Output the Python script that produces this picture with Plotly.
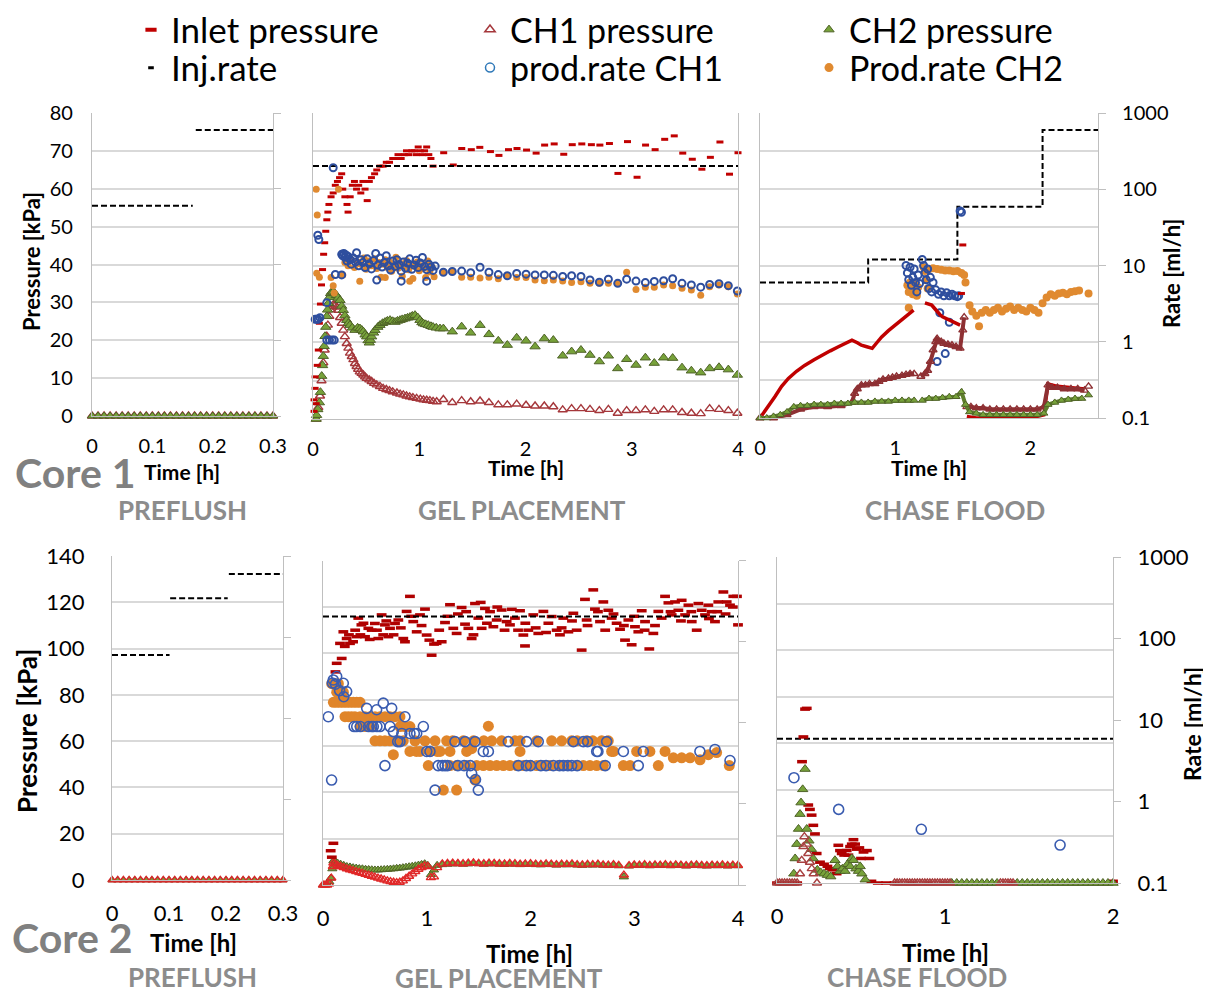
import plotly.graph_objects as go

# ---------------- DATA (time [h], value) ----------------
# Core 1 - preflush
c1_pre_t = [0, 0.01, 0.02, 0.03, 0.04, 0.05, 0.06, 0.07, 0.08, 0.09, 0.10, 0.11, 0.12, 0.13, 0.14, 0.15,
            0.16, 0.17, 0.18, 0.19, 0.20, 0.21, 0.22, 0.23, 0.24, 0.25, 0.26, 0.27, 0.28, 0.29, 0.30]
c1_pre_ch = [0, 0, 0, 0, 0, 0, 0, 0, 0, 0, 0, 0, 0, 0, 0, 0, 0, 0, 0, 0, 0, 0, 0, 0, 0, 0, 0, 0, 0, 0, 0]
c1_pre_inj_t = [0, 0.167, None, 0.172, 0.3]
c1_pre_inj = [60, 60, None, 600, 600]

# Core 1 - gel placement
c1_gel_inj_t = [0, 4]
c1_gel_inj = [200, 200]
c1_gel_inlet = [(0.01, 2), (0.01, 5), (0.02, 8), (0.02, 11), (0.03, 4), (0.04, 14), (0.05, 18), (0.06, 25), (0.07, 30),
                (0.08, 35), (0.09, 39), (0.10, 43), (0.11, 46), (0.12, 49), (0.13, 52), (0.14, 54), (0.15, 56), (0.17, 58),
                (0.19, 59), (0.21, 61), (0.23, 62), (0.25, 63), (0.27, 64), (0.28, 60), (0.30, 58), (0.32, 56), (0.33, 54),
                (0.35, 58), (0.37, 61), (0.39, 62), (0.41, 60), (0.43, 61), (0.45, 59), (0.47, 62), (0.49, 60), (0.51, 57),
                (0.53, 62), (0.55, 63), (0.58, 64), (0.60, 65), (0.63, 66), (0.66, 66), (0.69, 67), (0.72, 67), (0.75, 68),
                (0.78, 68), (0.80, 69), (0.83, 68), (0.86, 69), (0.88, 70), (0.90, 69), (0.93, 70), (0.95, 70), (0.97, 69),
                (0.99, 71), (1.01, 70), (1.03, 69), (1.05, 70), (1.07, 71), (1.09, 69), (1.11, 68), (1.13, 66),
                (1.23, 69.5), (1.32, 66.3), (1.40, 70.6), (1.49, 70.3), (1.57, 70.9), (1.67, 69.8), (1.75, 68.8), (1.84, 70.3),
                (1.92, 70.6), (2.01, 70.2), (2.10, 69.4), (2.18, 71.5), (2.27, 71.8), (2.36, 69.1), (2.44, 71.6), (2.53, 71.8),
                (2.62, 71.6), (2.70, 71.5), (2.79, 71.9), (2.87, 64.1), (2.96, 72.4), (3.05, 63.1), (3.13, 71.5), (3.22, 70.3),
                (3.31, 73.0), (3.40, 73.9), (3.48, 69.4), (3.57, 67.8), (3.66, 65.2), (3.74, 68.3), (3.83, 72.3), (3.92, 63.9),
                (4.00, 69.5)]
c1_gel_ch1 = [(0.03, 0), (0.05, 3), (0.066, 6), (0.08, 10), (0.097, 14.7), (0.11, 18), (0.13, 21.6), (0.14, 24.5),
              (0.154, 26.8), (0.165, 28.5), (0.176, 29.3), (0.19, 29.8), (0.207, 29.8), (0.225, 29.2), (0.24, 28.4),
              (0.255, 26.5), (0.27, 25), (0.285, 23.2), (0.30, 21.5), (0.317, 19.7), (0.333, 18.5), (0.348, 17.2),
              (0.365, 16.3), (0.38, 15.5), (0.395, 14.5), (0.41, 13.7), (0.425, 13), (0.44, 12.3), (0.457, 11.9),
              (0.474, 11.5), (0.49, 11), (0.505, 10.6), (0.53, 10.2), (0.552, 9.8), (0.575, 9.3), (0.60, 8.9),
              (0.63, 8.5), (0.66, 8.0), (0.69, 7.7), (0.72, 7.4), (0.75, 7.1), (0.79, 6.8), (0.82, 6.5), (0.85, 6.3),
              (0.88, 6.0), (0.91, 5.8), (0.94, 5.6), (0.975, 5.4), (1.01, 5.2), (1.04, 5.0), (1.07, 4.9), (1.10, 4.8),
              (1.13, 4.6), (1.164, 4.5),
              (1.227, 5.1), (1.311, 4.3), (1.399, 4.8), (1.484, 4.5), (1.572, 4.7), (1.656, 4.3), (1.744, 3.7),
              (1.829, 3.7), (1.917, 3.9), (2.005, 3.6), (2.09, 3.4), (2.177, 3.4), (2.262, 3.2), (2.35, 2.4),
              (2.434, 2.7), (2.522, 2.7), (2.607, 2.5), (2.695, 2.2), (2.78, 2.5), (2.868, 1.5), (2.952, 2.2),
              (3.04, 2.2), (3.128, 2.4), (3.212, 2.0), (3.30, 2.4), (3.385, 2.4), (3.473, 1.7), (3.561, 1.5),
              (3.649, 1.4), (3.733, 2.7), (3.821, 2.5), (3.909, 2.2), (3.994, 1.5)]
c1_gel_ch2 = [(0.03, 0), (0.034, 1), (0.045, 2.5), (0.06, 4.3), (0.07, 7), (0.082, 11.2), (0.09, 14), (0.097, 16.4),
              (0.105, 19), (0.113, 21.6), (0.12, 24), (0.13, 26.8), (0.137, 28.5), (0.144, 30.2), (0.155, 31.8),
              (0.166, 32.8), (0.178, 33.2), (0.19, 33.2), (0.205, 32.8), (0.22, 32.3), (0.237, 31.6), (0.254, 31.0),
              (0.27, 29.5), (0.285, 28.4), (0.30, 27), (0.317, 25.8), (0.333, 25), (0.348, 24.5), (0.37, 23.8),
              (0.395, 23.2), (0.42, 23.8), (0.442, 23.6), (0.46, 23.2), (0.474, 22.8), (0.49, 22), (0.505, 21.5),
              (0.518, 20.5), (0.53, 19.9), (0.54, 20.6), (0.552, 21.5), (0.57, 22.5), (0.584, 23.2), (0.61, 24),
              (0.63, 24.5), (0.655, 25), (0.678, 25.3), (0.70, 25.6), (0.725, 25.8), (0.75, 25.5), (0.772, 25.3),
              (0.795, 25.6), (0.819, 25.8), (0.84, 26), (0.866, 26.2), (0.89, 26.4), (0.913, 26.6), (0.935, 26.9),
              (0.96, 27.1), (0.985, 26.5), (1.007, 25.8), (1.025, 25.2), (1.04, 24.9), (1.06, 24.7), (1.085, 24.5),
              (1.11, 24.2), (1.13, 24.0), (1.16, 23.8), (1.195, 23.6),
              (1.227, 23.6), (1.311, 22.8), (1.399, 24.1), (1.484, 22.5), (1.572, 24.5), (1.656, 22.1), (1.744, 20.4),
              (1.829, 19.3), (1.917, 21.2), (2.005, 20.4), (2.09, 18.9), (2.177, 21.0), (2.262, 20.6), (2.35, 16.5),
              (2.434, 17.6), (2.522, 18.0), (2.607, 16.7), (2.695, 15.0), (2.78, 16.5), (2.868, 13.2), (2.952, 15.6),
              (3.04, 14.1), (3.128, 16.0), (3.212, 14.6), (3.30, 16.0), (3.385, 15.9), (3.473, 13.4), (3.561, 12.6),
              (3.649, 12.1), (3.733, 13.2), (3.821, 13.5), (3.909, 12.9), (3.994, 11.5)]
c1_gel_q1 = [(0.02, 2.0), (0.035, 2.0), (0.05, 2.0), (0.065, 2.1), (0.045, 25), (0.055, 22), (0.13, 3.3), (0.13, 1.07),
             (0.155, 1.07), (0.18, 1.07), (0.20, 1.07), (0.19, 190), (0.21, 7.7), (0.27, 7.6), (0.60, 6.5), (0.83, 6.3),
             (1.07, 6.3),
             (0.27, 14.1), (0.28, 13.5), (0.29, 14.5), (0.30, 12.9), (0.31, 13.8), (0.32, 11.5), (0.33, 13.2), (0.35, 12.0),
             (0.36, 10.5), (0.38, 12.6), (0.40, 11.2), (0.41, 14.8), (0.43, 10.0), (0.45, 12.0), (0.47, 11.0), (0.49, 9.5),
             (0.51, 12.3), (0.53, 10.6), (0.55, 9.1), (0.57, 11.7), (0.59, 14.5), (0.61, 10.2), (0.63, 12.6), (0.65, 9.6),
             (0.67, 11.0), (0.69, 13.5), (0.71, 10.0), (0.73, 8.8), (0.75, 11.5), (0.77, 9.8), (0.79, 12.0), (0.81, 10.4),
             (0.83, 8.5), (0.85, 11.2), (0.87, 9.3), (0.89, 10.8), (0.91, 12.3), (0.93, 9.0), (0.95, 10.2), (0.97, 11.8),
             (0.99, 9.5), (1.01, 10.9), (1.03, 12.8), (1.05, 9.8), (1.07, 8.9), (1.09, 10.5), (1.11, 9.6), (1.13, 8.7),
             (1.15, 9.9),
             (1.227, 8.22), (1.311, 8.41), (1.399, 8.51), (1.484, 8.13), (1.572, 9.55), (1.656, 8.22), (1.744, 7.67),
             (1.829, 7.41), (1.917, 7.94), (2.005, 7.76), (2.09, 7.59), (2.177, 7.59), (2.262, 7.50), (2.35, 7.24),
             (2.434, 7.41), (2.522, 7.24), (2.607, 6.53), (2.695, 6.10), (2.78, 6.68), (2.868, 5.89), (2.952, 6.68),
             (3.04, 6.31), (3.128, 6.03), (3.212, 6.24), (3.30, 6.38), (3.385, 6.76), (3.473, 5.89), (3.561, 5.62),
             (3.649, 5.25), (3.733, 5.69), (3.821, 5.82), (3.909, 5.50), (3.994, 4.68)]
c1_gel_q2 = [(0.03, 100), (0.04, 46), (0.035, 8.0), (0.06, 7.1), (0.17, 7.0), (0.19, 5.5), (0.20, 4.4), (0.24, 100),
             (0.28, 7.6), (0.44, 6.3), (0.68, 7.0), (0.91, 6.3),
             (0.30, 11.0), (0.33, 10.0), (0.36, 12.0), (0.39, 9.5), (0.42, 11.2), (0.45, 10.5), (0.48, 12.6), (0.50, 9.0),
             (0.52, 11.5), (0.55, 10.0), (0.58, 12.3), (0.60, 9.2), (0.62, 11.0), (0.64, 7.1), (0.66, 10.5), (0.68, 12.0),
             (0.70, 9.5), (0.72, 11.3), (0.74, 8.5), (0.76, 10.2), (0.78, 12.9), (0.80, 9.3), (0.82, 10.9), (0.84, 7.3),
             (0.86, 10.0), (0.88, 11.7), (0.90, 8.9), (0.92, 10.4), (0.94, 6.8), (0.96, 9.8), (0.98, 11.2), (1.00, 8.6),
             (1.02, 10.0), (1.04, 9.2), (1.06, 7.0), (1.08, 11.5), (1.10, 8.3), (1.12, 9.6), (1.14, 7.2),
             (1.227, 8.22), (1.311, 8.41), (1.399, 7.08), (1.484, 7.08), (1.572, 6.92), (1.656, 7.08), (1.744, 6.76),
             (1.829, 7.41), (1.917, 7.0), (2.005, 7.0), (2.09, 6.53), (2.177, 6.38), (2.262, 6.53), (2.35, 6.31),
             (2.434, 6.03), (2.522, 6.17), (2.607, 5.89), (2.695, 5.89), (2.78, 5.89), (2.868, 5.89), (2.952, 8.22),
             (3.04, 4.90), (3.128, 5.25), (3.212, 5.25), (3.30, 5.62), (3.385, 5.50), (3.473, 5.07), (3.561, 4.84),
             (3.649, 4.12), (3.733, 5.31), (3.821, 5.62), (3.909, 5.31), (3.994, 4.27)]

# Core 1 - chase flood (log scale)
c1_cf_inj_t = [0, 0.80, 1.46, 2.09, 2.5]
c1_cf_inj = [6, 12, 59, 600, 600]
c1_cf_inlet_line = [(0.013, 0.108), (0.06, 0.14), (0.11, 0.19), (0.16, 0.26), (0.21, 0.33), (0.27, 0.41), (0.33, 0.49),
                    (0.40, 0.58), (0.46, 0.67), (0.52, 0.76), (0.58, 0.86), (0.63, 0.95), (0.68, 1.05), (0.72, 0.97),
                    (0.75, 0.90), (0.79, 0.86), (0.83, 0.82), (0.87, 1.0), (0.90, 1.16), (0.95, 1.4), (1.0, 1.65),
                    (1.05, 1.95), (1.10, 2.3), (1.136, 2.6), (None, None),
                    (1.22, 3.24), (1.25, 3.15), (1.27, 3.03), (1.29, 2.75), (1.31, 2.47), (1.33, 2.28), (1.35, 2.12),
                    (1.385, 1.97), (1.42, 1.83), (1.45, 1.74), (1.48, 1.65), (None, None),
                    (1.53, 0.105), (1.60, 0.10), (1.70, 0.10), (1.80, 0.10), (1.90, 0.10), (2.0, 0.10), (2.10, 0.11),
                    (2.13, 0.28), (2.20, 0.26), (2.30, 0.25), (2.40, 0.24)]
c1_cf_inlet_dots = [(1.49, 4.3), (1.50, 18.6)]
c1_cf_ch1 = [(0.0, 0.1), (0.1, 0.1), (0.2, 0.11), (0.3, 0.13), (0.4, 0.14), (0.5, 0.14), (0.6, 0.145),
             (0.68, 0.16), (0.70, 0.21), (0.72, 0.24), (0.75, 0.27), (0.78, 0.27), (0.81, 0.28), (0.85, 0.28),
             (0.88, 0.30), (0.91, 0.32), (0.95, 0.33), (0.98, 0.34), (1.01, 0.35), (1.05, 0.36), (1.08, 0.37),
             (1.11, 0.38), (1.14, 0.38), (None, None), (1.19, 0.35), (1.22, 0.38), (1.24, 0.42), (1.26, 0.55),
             (1.28, 0.78), (1.30, 1.0), (1.31, 1.1), (1.34, 1.0), (1.36, 0.95), (1.39, 0.92), (1.42, 0.90),
             (1.45, 0.86), (1.48, 0.82), (1.50, 1.42), (1.51, 2.1), (None, None),
             (1.53, 0.14), (1.56, 0.14), (1.60, 0.135), (1.65, 0.135), (1.70, 0.13), (1.75, 0.13), (1.80, 0.13),
             (1.85, 0.13), (1.90, 0.13), (1.95, 0.13), (2.0, 0.13), (2.05, 0.13), (2.10, 0.14), (2.13, 0.27),
             (2.16, 0.25), (2.20, 0.25), (2.25, 0.24), (2.30, 0.24), (2.35, 0.24), (2.40, 0.23), (None, None),
             (2.43, 0.26)]
c1_cf_ch2 = [(0.0, 0.1), (0.05, 0.1), (0.10, 0.105), (0.15, 0.11), (0.20, 0.12), (0.25, 0.14), (0.30, 0.145),
             (0.35, 0.145), (0.40, 0.15), (0.45, 0.15), (0.50, 0.15), (0.55, 0.155), (0.60, 0.155), (0.65, 0.155),
             (0.70, 0.16), (0.75, 0.16), (0.80, 0.16), (0.85, 0.165), (0.90, 0.165), (0.95, 0.165), (1.0, 0.17),
             (1.05, 0.17), (1.10, 0.17), (1.14, 0.17), (None, None), (1.20, 0.17), (1.25, 0.18), (1.30, 0.18),
             (1.35, 0.185), (1.40, 0.19), (1.45, 0.19), (1.49, 0.22), (1.52, 0.15), (1.55, 0.12), (1.60, 0.115),
             (1.65, 0.11), (1.70, 0.11), (1.75, 0.11), (1.80, 0.11), (1.85, 0.11), (1.90, 0.11), (1.95, 0.11),
             (2.0, 0.11), (2.05, 0.11), (2.10, 0.115), (2.13, 0.15), (2.18, 0.16), (2.23, 0.17), (2.28, 0.175),
             (2.33, 0.18), (2.38, 0.18), (None, None), (2.43, 0.20)]
c1_cf_q1 = [(1.08, 10), (1.09, 8.0), (1.10, 6.5), (1.11, 9.5), (1.12, 5.5), (1.13, 7.0), (1.14, 9.0), (1.15, 6.0),
            (1.16, 4.5), (1.17, 7.5), (1.18, 5.8), (1.20, 12), (1.21, 10), (1.22, 8), (1.23, 6.5), (1.24, 9),
            (1.25, 5), (1.26, 7), (1.27, 4.5), (1.28, 6), (1.30, 4.8), (1.32, 4.2), (1.34, 4.5), (1.36, 4.0),
            (1.38, 4.4), (1.40, 4.0), (1.42, 4.2), (1.44, 4.0), (1.46, 3.9), (1.47, 4.0), (1.33, 2.4), (1.40, 1.8),
            (1.37, 0.7), (1.31, 0.55), (1.48, 52), (1.49, 50)]
c1_cf_q2 = [(1.09, 5.5), (1.10, 4.5), (1.11, 6.0), (1.12, 5.0), (1.13, 4.2), (1.14, 5.8), (1.15, 4.8), (1.16, 4.0),
            (1.17, 5.2), (1.10, 2.8), (1.21, 9.5), (1.22, 8.5), (1.23, 6.5), (1.24, 5.0), (1.25, 9.0), (1.28, 9.2),
            (1.31, 9.0), (1.34, 8.8), (1.37, 8.6), (1.40, 8.6), (1.43, 8.4), (1.46, 8.5), (1.49, 8.0), (1.51, 7.5),
            (1.52, 6.0), (1.55, 3.0), (1.57, 2.5), (1.60, 2.2), (1.62, 1.6), (1.64, 2.4), (1.67, 2.6), (1.70, 2.4),
            (1.73, 2.6), (1.76, 2.8), (1.79, 2.5), (1.82, 2.7), (1.85, 2.9), (1.88, 2.6), (1.91, 2.8), (1.94, 2.6),
            (1.97, 2.5), (2.0, 2.8), (2.03, 2.6), (2.06, 2.4), (2.09, 3.2), (2.12, 3.8), (2.15, 4.2), (2.18, 4.0),
            (2.21, 4.3), (2.24, 4.4), (2.27, 4.2), (2.30, 4.5), (2.33, 4.6), (2.36, 4.7), (2.43, 4.3)]

# Core 2 - preflush
c2_pre_t = [0, 0.01, 0.02, 0.03, 0.04, 0.05, 0.06, 0.07, 0.08, 0.09, 0.10, 0.11, 0.12, 0.13, 0.14, 0.15,
            0.16, 0.17, 0.18, 0.19, 0.20, 0.21, 0.22, 0.23, 0.24, 0.25, 0.26, 0.27, 0.28, 0.29, 0.30]
c2_pre_ch = [0, 0, 0, 0, 0, 0, 0, 0, 0, 0, 0, 0, 0, 0, 0, 0, 0, 0, 0, 0, 0, 0, 0, 0, 0, 0, 0, 0, 0, 0, 0]
c2_pre_inj_t = [0, 0.101, None, 0.102, 0.203, None, 0.205, 0.3]
c2_pre_inj = [60, 60, None, 300, 300, None, 600, 600]

# Core 2 - gel placement
c2_gel_inj_t = [0, 4]
c2_gel_inj = [205, 205]
c2_gel_inlet = [(0.074, 14.8), (0.085, 12), (0.10, 18), (0.11, 88), (0.12, 92), (0.132, 95.7), (0.18, 97.8), (0.164, 104.3),
                (0.196, 109.3), (0.21, 103), (0.228, 106.4), (0.25, 108), (0.26, 104.3), (0.29, 105), (0.31, 110),
                (0.325, 107.2), (0.34, 115.2), (0.36, 108), (0.37, 112.3), (0.39, 113), (0.405, 107.2), (0.437, 110.8),
                (0.45, 106), (0.469, 110), (0.5, 112.9), (0.52, 110), (0.533, 106.4), (0.565, 116.6), (0.58, 108),
                (0.597, 112.3), (0.61, 114), (0.63, 107.2), (0.646, 110.8), (0.68, 108), (0.694, 112.9), (0.726, 114.4),
                (0.75, 111), (0.774, 106.4), (0.79, 105), (0.806, 118.1), (0.838, 124.6), (0.85, 116), (0.87, 113.7),
                (0.903, 109.3), (0.935, 116.6), (0.95, 112), (0.983, 119.1), (0.999, 107.9), (1.025, 105.7),
                (1.047, 99.2), (1.07, 104), (1.095, 104.3), (1.12, 110), (1.144, 105), (1.176, 113.3), (1.20, 116),
                (1.224, 121), (1.256, 110.8), (1.288, 108.6), (1.30, 117), (1.336, 119.8), (1.369, 112.6), (1.38, 118),
                (1.401, 110.8), (1.433, 106.4), (1.45, 108), (1.465, 121.5), (1.497, 115.2), (1.52, 122), (1.529, 110.8),
                (1.561, 119.4), (1.58, 113), (1.61, 118), (1.642, 111.5), (1.674, 114.4), (1.68, 120), (1.722, 118.7),
                (1.75, 110), (1.77, 113.7), (1.802, 112.3), (1.82, 119), (1.85, 115.2), (1.88, 110), (1.899, 118.4),
                (1.931, 107.9), (1.947, 103.2), (1.95, 113), (1.979, 110), (2.027, 116.6), (2.05, 111), (2.075, 108.6),
                (2.124, 118.1), (2.15, 109), (2.172, 113), (2.204, 115.9), (2.252, 110), (2.284, 108), (2.30, 111),
                (2.316, 115.2), (2.365, 109.3), (2.40, 114), (2.413, 117.3), (2.445, 110), (2.493, 101.4), (2.525, 123.3),
                (2.541, 114.4), (2.55, 112), (2.605, 127.4), (2.621, 119.1), (2.65, 118), (2.67, 113.7), (2.702, 122.2),
                (2.72, 110), (2.75, 118.6), (2.782, 115.2), (2.80, 117), (2.83, 113), (2.863, 110.4), (2.90, 112),
                (2.911, 105.7), (2.943, 114.4), (2.975, 103.7), (3.0, 116), (3.007, 111.5), (3.039, 109.3), (3.072, 118.4),
                (3.10, 110), (3.104, 113.7), (3.145, 101.9), (3.184, 108.6), (3.20, 112), (3.232, 118.1), (3.264, 115.2),
                (3.297, 124.6), (3.329, 121.8), (3.35, 118), (3.361, 116.6), (3.393, 122.2), (3.425, 118.6), (3.45, 114),
                (3.457, 122.9), (3.49, 116.6), (3.522, 120.8), (3.55, 118), (3.554, 113.7), (3.602, 110), (3.618, 121.5),
                (3.65, 118.6), (3.682, 116.6), (3.714, 120.8), (3.72, 115), (3.746, 118), (3.778, 113.7), (3.80, 118),
                (3.81, 122.2), (3.859, 126.5), (3.88, 117), (3.891, 122.2), (3.923, 120.8), (3.95, 120), (3.955, 124.6),
                (3.99, 124.6), (4.0, 112.3)]
c2_band_t = [1.15, 1.20, 1.25, 1.30, 1.35, 1.40, 1.45, 1.50, 1.55, 1.60, 1.65, 1.70, 1.75, 1.80, 1.85, 1.90, 1.95, 2.00,
             2.05, 2.10, 2.15, 2.20, 2.25, 2.30, 2.35, 2.40, 2.45, 2.50, 2.55, 2.60, 2.65, 2.70, 2.75, 2.80, 2.85, 2.90,
             2.95, 3.00, 3.05, 3.10, 3.15, 3.20, 3.25, 3.30, 3.35, 3.40, 3.45, 3.50, 3.55, 3.60, 3.65, 3.70, 3.75, 3.80,
             3.85, 3.90, 3.95, 4.00]
c2_gel_ch2_early = [(0.0, 0), (0.02, 0), (0.04, 0.5), (0.06, 1.5), (0.075, 3), (0.09, 7), (0.10, 10.5), (0.12, 10),
                    (0.14, 9.5), (0.17, 9), (0.20, 8.5), (0.23, 8), (0.26, 7.8), (0.29, 7.5), (0.32, 7.3), (0.35, 7.1),
                    (0.38, 7), (0.41, 6.8), (0.44, 6.7), (0.47, 6.6), (0.50, 6.5), (0.53, 6.5), (0.56, 6.6), (0.59, 6.7),
                    (0.62, 6.8), (0.65, 6.9), (0.68, 7), (0.71, 7.2), (0.74, 7.3), (0.77, 7.5), (0.80, 7.7), (0.83, 7.9),
                    (0.86, 8.1), (0.89, 8.3), (0.92, 8.6), (0.95, 8.9), (0.98, 9.2), (1.01, 8.5), (1.04, 4.5), (1.07, 6.5),
                    (1.10, 8.5)]
c2_gel_ch2_band = [8.8, 9.0, 9.1, 9.2, 9.0, 9.1, 9.3, 9.2, 9.0, 9.1, 9.2, 9.0, 8.9, 9.1, 9.0, 8.8, 8.9, 9.0, 8.8, 8.7,
                   8.9, 8.8, 8.6, 8.8, 8.7, 8.9, 8.6, 8.5, 8.7, 8.6, 8.8, 8.5, 8.4, 8.6, 8.3, 3.5, 8.2, 8.5, 8.4, 8.6,
                   8.3, 8.5, 8.4, 8.6, 8.3, 8.5, 8.4, 8.2, 8.4, 8.5, 8.3, 8.2, 8.4, 8.3, 8.5, 8.2, 8.4, 8.3]
c2_gel_ch1_early = [(0.0, 0), (0.02, 0), (0.04, 0), (0.06, 0.5), (0.08, 3), (0.095, 8), (0.10, 9.5), (0.12, 9),
                    (0.14, 8.5), (0.17, 8), (0.20, 7.5), (0.23, 7), (0.26, 6.6), (0.29, 6.2), (0.32, 5.8), (0.35, 5.4),
                    (0.38, 5), (0.41, 4.6), (0.44, 4.2), (0.47, 3.8), (0.50, 3.4), (0.53, 3), (0.56, 2.6), (0.59, 2.2),
                    (0.62, 1.8), (0.65, 1.5), (0.68, 1.2), (0.71, 1.0), (0.74, 1.2), (0.77, 1.8), (0.80, 2.8), (0.83, 3.8),
                    (0.86, 4.8), (0.89, 5.8), (0.92, 6.8), (0.95, 7.5), (0.98, 8.2), (1.01, 8.0), (1.04, 3.2), (1.07, 3.5),
                    (1.10, 7.5)]
c2_gel_ch1_band = [9.1, 9.3, 9.4, 9.3, 9.2, 9.4, 9.5, 9.3, 9.2, 9.4, 9.3, 9.2, 9.1, 9.3, 9.2, 9.0, 9.1, 9.2, 9.0, 8.9,
                   9.1, 9.0, 8.8, 9.0, 8.9, 9.1, 8.8, 8.7, 8.9, 8.8, 9.0, 8.7, 8.6, 8.8, 8.5, 4.3, 8.4, 8.7, 8.6, 8.8,
                   8.5, 8.7, 8.6, 8.8, 8.5, 8.7, 8.6, 8.4, 8.6, 8.7, 8.5, 8.4, 8.6, 8.5, 8.7, 8.4, 8.6, 8.5]
c2_gel_q1 = [(0.051, 11.9), (0.083, 1.97), (0.09, 31), (0.099, 33.8), (0.12, 30), (0.132, 37.3), (0.16, 25), (0.196, 30.8),
             (0.20, 21), (0.228, 24.3), (0.30, 9.0), (0.325, 9.0), (0.36, 9.0), (0.421, 15.1), (0.44, 9.0), (0.47, 9.0),
             (0.485, 9.0), (0.517, 14.5), (0.52, 9.0), (0.549, 9.0), (0.581, 17.5), (0.597, 2.97), (0.646, 9.0),
             (0.662, 15.1), (0.678, 7.8), (0.72, 5.87), (0.742, 5.87), (0.76, 7.4), (0.79, 11.9), (0.838, 7.4),
             (0.88, 7.4), (0.903, 7.4), (0.967, 9.0), (1.0, 4.44), (1.031, 4.44), (1.08, 1.48), (1.11, 2.97), (1.15, 2.97),
             (1.176, 2.97), (1.20, 2.97), (1.272, 5.87), (1.30, 2.97), (1.36, 2.97), (1.369, 5.87), (1.42, 2.97),
             (1.433, 2.37), (1.465, 5.87), (1.47, 2.0), (1.497, 1.48), (1.545, 4.44), (1.594, 4.44), (1.786, 5.87),
             (1.883, 2.97), (1.96, 2.97), (1.963, 5.87), (2.0, 2.97), (2.075, 5.87), (2.10, 2.97), (2.15, 2.97),
             (2.22, 2.97), (2.28, 2.97), (2.316, 2.97), (2.36, 2.97), (2.397, 2.97), (2.413, 5.87), (2.45, 2.97),
             (2.509, 5.87), (2.55, 5.87), (2.638, 4.44), (2.65, 4.44), (2.72, 2.97), (2.734, 5.87), (2.895, 4.44),
             (3.039, 2.97), (3.087, 4.44), (3.633, 4.44), (3.778, 4.7), (3.923, 3.43)]
c2_gel_q2 = [(0.084, 30.4), (0.116, 30.4), (0.148, 30.4), (0.132, 23.9), (0.164, 23.9), (0.196, 23.9), (0.10, 17.9),
             (0.132, 17.9), (0.164, 17.9), (0.196, 17.9), (0.228, 17.9), (0.26, 17.9), (0.292, 17.9), (0.325, 17.9),
             (0.357, 17.9), (0.212, 11.9), (0.244, 11.9), (0.276, 11.9), (0.308, 11.9), (0.357, 11.9), (0.405, 11.9),
             (0.453, 11.9), (0.501, 11.9), (0.549, 11.9), (0.597, 11.9), (0.646, 11.9), (0.694, 11.9), (0.742, 11.9),
             (0.357, 9.0), (0.405, 9.0), (0.453, 9.0), (0.742, 9.0), (0.79, 9.0), (0.838, 9.0), (0.501, 6.0),
             (0.549, 6.0), (0.597, 6.0), (0.646, 6.0), (0.726, 6.0), (0.774, 6.0), (0.887, 6.0), (0.983, 6.0),
             (1.08, 6.0), (1.192, 6.0), (1.25, 6.0), (1.352, 6.0), (1.45, 6.0), (1.55, 6.0), (1.626, 6.0), (1.722, 6.0),
             (1.85, 6.0), (1.90, 6.0), (2.059, 6.0), (2.204, 6.0), (2.30, 6.0), (2.397, 6.0), (2.45, 6.0), (2.541, 6.0),
             (2.60, 6.0), (2.686, 6.0), (2.75, 6.0), (0.678, 4.05), (0.838, 4.44), (0.90, 4.44), (0.935, 4.44),
             (1.031, 4.44), (1.10, 4.44), (1.128, 4.44), (1.224, 4.44), (1.385, 4.44), (1.433, 4.8), (1.899, 4.44),
             (2.782, 4.44), (2.80, 4.44), (3.023, 4.44), (3.151, 4.44), (3.297, 4.44), (3.377, 3.7), (3.457, 3.7),
             (3.538, 3.7), (3.634, 3.5), (3.714, 4.05), (3.794, 4.3), (1.015, 2.97), (1.224, 2.97), (1.288, 2.97),
             (1.385, 2.97), (1.481, 2.97), (1.545, 2.97), (1.61, 2.97), (1.674, 2.97), (1.738, 2.97), (1.802, 2.97),
             (1.866, 2.97), (1.931, 2.97), (1.995, 2.97), (2.059, 2.97), (2.124, 2.97), (2.188, 2.97), (2.268, 2.97),
             (2.348, 2.97), (2.445, 2.97), (2.509, 2.97), (2.573, 2.97), (2.638, 2.97), (2.702, 2.97), (2.895, 2.97),
             (2.959, 2.97), (3.232, 2.97), (3.916, 2.97), (1.16, 1.48), (1.288, 1.48), (1.465, 1.97), (1.594, 9.1)]

# Core 2 - chase flood (log scale)
c2_cf_inj_t = [0, 2]
c2_cf_inj = [5.9, 5.9]
c2_cf_inlet = [(0.0, 0.1), (0.03, 0.1), (0.06, 0.1), (0.09, 0.1), (0.12, 0.1), (0.149, 3.08), (0.157, 6.2), (0.167, 13.6),
               (0.177, 13.9), (0.186, 0.905), (0.196, 0.8), (0.206, 0.68), (0.216, 0.51), (0.226, 0.40), (0.236, 0.23),
               (0.256, 0.18), (0.28, 0.17), (0.30, 0.16), (0.315, 0.15), (0.33, 0.145), (0.355, 0.13), (0.365, 0.29),
               (0.375, 0.25), (0.385, 0.23), (0.40, 0.22), (0.415, 0.25), (0.425, 0.22), (0.435, 0.28), (0.445, 0.3),
               (0.455, 0.34), (0.465, 0.30), (0.475, 0.26), (0.49, 0.27), (0.50, 0.2), (0.515, 0.24), (0.535, 0.25),
               (0.55, 0.2), (0.562, 0.105), (0.60, 0.1), (0.65, 0.1), (0.70, 0.1), (0.80, 0.1), (0.90, 0.1), (1.0, 0.1),
               (1.2, 0.1), (1.4, 0.1), (1.6, 0.1), (1.8, 0.1), (2.0, 0.105)]
c2_cf_ch2 = [(0.10, 0.13), (0.108, 0.2), (0.118, 0.3), (0.128, 0.46), (0.137, 0.7), (0.143, 0.97), (0.153, 1.41),
             (0.167, 2.5), (0.177, 0.46), (0.19, 0.33), (0.205, 0.26), (0.215, 0.2), (0.24, 0.145), (0.26, 0.135),
             (0.28, 0.13), (0.30, 0.125), (0.32, 0.12), (0.345, 0.19), (0.36, 0.16), (0.375, 0.14), (0.39, 0.15),
             (0.405, 0.14), (0.42, 0.17), (0.435, 0.16), (0.445, 0.2), (0.455, 0.19), (0.47, 0.15), (0.485, 0.14),
             (0.495, 0.16), (0.505, 0.13), (0.525, 0.11),
             (1.04, 0.1), (1.07, 0.1), (1.10, 0.1), (1.13, 0.1), (1.16, 0.1), (1.19, 0.1), (1.22, 0.1), (1.25, 0.1),
             (1.28, 0.1), (1.31, 0.1), (1.43, 0.1), (1.46, 0.1), (1.49, 0.1), (1.52, 0.1), (1.55, 0.1), (1.58, 0.1),
             (1.61, 0.1), (1.64, 0.1), (1.67, 0.1), (1.70, 0.1), (1.73, 0.1), (1.76, 0.1), (1.79, 0.1), (1.82, 0.1),
             (1.85, 0.1), (1.88, 0.1), (1.91, 0.1), (1.94, 0.1), (1.97, 0.1), (2.0, 0.1)]
c2_cf_ch1 = [(0.0, 0.1), (0.015, 0.1), (0.03, 0.1), (0.045, 0.1), (0.06, 0.1), (0.075, 0.1), (0.09, 0.1), (0.105, 0.1),
             (0.12, 0.1), (0.137, 0.13), (0.147, 0.19), (0.157, 0.28), (0.163, 0.37), (0.177, 0.3), (0.186, 0.23),
             (0.196, 0.18), (0.207, 0.15), (0.218, 0.13), (0.238, 0.1),
             (0.70, 0.1), (0.715, 0.1), (0.73, 0.1), (0.745, 0.1), (0.76, 0.1), (0.775, 0.1), (0.79, 0.1), (0.805, 0.1),
             (0.82, 0.1), (0.835, 0.1), (0.85, 0.1), (0.865, 0.1), (0.88, 0.1), (0.895, 0.1), (0.91, 0.1), (0.925, 0.1),
             (0.94, 0.1), (0.955, 0.1), (0.97, 0.1), (0.985, 0.1), (1.0, 0.1), (1.015, 0.1), (1.03, 0.1),
             (1.33, 0.1), (1.345, 0.1), (1.36, 0.1), (1.375, 0.1), (1.39, 0.1), (1.405, 0.1)]
c2_cf_q1 = [(0.101, 1.96), (0.367, 0.80), (0.859, 0.456), (1.685, 0.292)]

# ---------------- FIGURE ----------------
FONT = "Lato"
PAGE_OFF = 8                      # the page body adds an 8 px margin before the figure
W, H = 1211 - PAGE_OFF, 993 - PAGE_OFF
GRID = "#D9D9D9"
AXL = "#BFBFBF"


def fx(x):
    return (x - PAGE_OFF) / W


def fy(y):
    return 1 - (y - PAGE_OFF) / H


def unzip(pairs):
    return [p[0] for p in pairs], [p[1] for p in pairs]


# panel geometry (screen pixels)
panels = [
    dict(x0=92, x1=273, y0=113.3, y1=416, xr=[0, 0.3], xt=[0, 0.1, 0.2, 0.3], pr=[0, 80], pd=10, row=1, col=1),
    dict(x0=313, x1=738, y0=112.5, y1=419, xr=[0, 4], xt=[0, 1, 2, 3, 4], pr=[0, 80], pd=10, row=1, col=2),
    dict(x0=760, x1=1098, y0=113, y1=418, xr=[0, 2.5], xt=[0, 1, 2], pr=[0, 80], pd=10, row=1, col=3),
    dict(x0=112, x1=283, y0=556, y1=880, xr=[0, 0.3], xt=[0, 0.1, 0.2, 0.3], pr=[0, 140], pd=20, row=2, col=1),
    dict(x0=323, x1=738, y0=560.7, y1=885, xr=[0, 4], xt=[0, 1, 2, 3, 4], pr=[0, 140], pd=20, row=2, col=2),
    dict(x0=777, x1=1113, y0=557, y1=883, xr=[0, 2], xt=[0, 1, 2], pr=[0, 140], pd=20, row=2, col=3),
]

layout = dict(width=W, height=H, margin=dict(l=0, r=0, t=0, b=0, autoexpand=False), paper_bgcolor="white",
              plot_bgcolor="white", font=dict(family=FONT, color="black"), showlegend=True, hovermode=False)

for i, p in enumerate(panels, start=1):
    xn = "x" if i == 1 else f"x{i}"
    yn = "y" if i == 1 else f"y{i}"
    fs = 20 if p["row"] == 1 else 22
    ydom = [fy(p["y1"]), fy(p["y0"])]
    layout["xaxis" if i == 1 else f"xaxis{i}"] = dict(
        domain=[fx(p["x0"]), fx(p["x1"])], range=p["xr"], anchor=yn, tickvals=p["xt"], automargin=False,
        ticktext=[("%g" % v) for v in p["xt"]], showgrid=False, zeroline=False, showline=True, linecolor=AXL,
        linewidth=1.2, ticks="outside", ticklen=0, tickcolor="rgba(0,0,0,0)",
        ticklabelstandoff=(12 if p["row"] == 1 else 13), tickfont=dict(size=fs, family=FONT))
    layout["yaxis" if i == 1 else f"yaxis{i}"] = dict(
        domain=ydom, range=p["pr"], dtick=p["pd"], anchor=xn, showgrid=True, gridcolor=GRID, automargin=False,
        gridwidth=1.5, zeroline=False, showline=True, linecolor=AXL, linewidth=1.2,
        showticklabels=(p["col"] == 1), ticks="outside", ticklen=0, tickcolor="rgba(0,0,0,0)",
        ticklabelstandoff=(14 if p["row"] == 1 else 22), tickfont=dict(size=fs, family=FONT))
    rate_ticks = p["col"] == 3 or (p["row"] == 2) or (i == 1)
    layout[f"yaxis{i + 6}"] = dict(
        overlaying=yn, side="right", anchor=xn, domain=ydom, type="log", range=[-1, 3], automargin=False,
        tickvals=[0.1, 1, 10, 100, 1000], ticktext=["0.1", "1", "10", "100", "1000"],
        showgrid=False, zeroline=False, showline=True, linecolor=AXL, linewidth=1.2,
        showticklabels=(p["col"] == 3), ticks=("outside" if rate_ticks else ""), ticklen=7, tickcolor=AXL,
        ticklabelstandoff=12, tickfont=dict(size=fs, family=FONT))

fig = go.Figure()

# empty traces so every pressure subplot exists (needed for the overlaying rate axes)
for i in range(1, 7):
    fig.add_trace(go.Scatter(x=[None], y=[None], mode="markers", showlegend=False,
                             xaxis=("x" if i == 1 else f"x{i}"), yaxis=("y" if i == 1 else f"y{i}")))

STY = {
    "inlet": dict(mode="markers", marker=dict(symbol="line-ew", size=5, line=dict(width=3, color="#C00000"))),
    "ch1": dict(mode="markers", marker=dict(symbol="triangle-up-open", size=8, color="#A5373B", line=dict(width=1.4))),
    "ch2": dict(mode="markers", marker=dict(symbol="triangle-up", size=9, color="#77A23A",
                                            line=dict(width=1, color="#4F6228"))),
    "q1": dict(mode="markers", marker=dict(symbol="circle-open", size=7, color="#2E4E9E", line=dict(width=2))),
    "q2": dict(mode="markers", marker=dict(symbol="circle", size=7, color="#E08A30")),
}
NAMES = {"inlet": "Inlet pressure", "ch1": "CH1 pressure", "ch2": "CH2 pressure", "inj": "Inj.rate",
         "q1": "prod.rate CH1", "q2": "Prod.rate CH2"}

# legend-only traces: one small legend per entry so the 3 x 2 grid is placed exactly
legend_marks = [
    ("inlet", "legend", 131, 30, 35, dict(symbol="line-ew", size=8, line=dict(width=4, color="#C00000"))),
    ("inj", "legend2", 131, 68, 35, dict(symbol="line-ew", size=4, line=dict(width=3, color="black"))),
    ("ch1", "legend3", 470, 30, 34, dict(symbol="triangle-up-open", size=9, color="#A5373B", line=dict(width=1.5))),
    ("q1", "legend4", 470, 68, 34, dict(symbol="circle-open", size=9, color="#2E78B8", line=dict(width=1.5))),
    ("ch2", "legend5", 809, 30, 34, dict(symbol="triangle-up", size=9, color="#77A23A",
                                         line=dict(width=1, color="#4F6228"))),
    ("q2", "legend6", 809, 68, 34, dict(symbol="circle", size=9, color="#E08A30")),
]
for k, lg, lx, ly, lf, mk in legend_marks:
    fig.add_trace(go.Scatter(x=[None], y=[None], mode="markers", marker=mk, name=NAMES[k], legendgroup=k,
                             legend=lg, showlegend=True, xaxis="x", yaxis="y"))
    layout[lg] = dict(orientation="v", x=fx(lx), y=fy(ly), xanchor="left", yanchor="middle",
                      font=dict(family=FONT, size=lf, color="black"), itemwidth=30, bgcolor="rgba(0,0,0,0)")


def add(kind, x, y, i, rate=False, marker=None, mode=None, line=None):
    st = STY[kind]
    mk = dict(st["marker"])
    if marker:
        mk.update(marker)
    xn = "x" if i == 1 else f"x{i}"
    yn = f"y{i + 6}" if rate else ("y" if i == 1 else f"y{i}")
    fig.add_trace(go.Scatter(x=x, y=y, mode=mode or st["mode"], marker=mk, line=line, xaxis=xn, yaxis=yn,
                             legendgroup=kind, showlegend=False, cliponaxis=False, connectgaps=False))


def add_inj(x, y, i, shape="linear"):
    xn = "x" if i == 1 else f"x{i}"
    fig.add_trace(go.Scatter(x=x, y=y, mode="lines", line=dict(color="black", width=2, dash="6px,3px", shape=shape),
                             xaxis=xn, yaxis=f"y{i + 6}", legendgroup="inj", showlegend=False, cliponaxis=False,
                             connectgaps=False))


# Panel 1 : Core 1 preflush
add("ch1", c1_pre_t, c1_pre_ch, 1, marker=dict(size=8))
add("ch2", c1_pre_t, c1_pre_ch, 1, marker=dict(size=8))
add_inj(c1_pre_inj_t, c1_pre_inj, 1)

# Panel 2 : Core 1 gel placement
x, y = unzip(c1_gel_ch1); add("ch1", x, y, 2)
x, y = unzip(c1_gel_ch2); add("ch2", x, y, 2)
x, y = unzip(c1_gel_inlet); add("inlet", x, y, 2)
add_inj(c1_gel_inj_t, c1_gel_inj, 2)
x, y = unzip(c1_gel_q2); add("q2", x, y, 2, rate=True)
x, y = unzip(c1_gel_q1); add("q1", x, y, 2, rate=True)

# Panel 3 : Core 1 chase flood
add_inj(c1_cf_inj_t, c1_cf_inj, 3, shape="hv")
x, y = unzip(c1_cf_q2); add("q2", x, y, 3, rate=True, marker=dict(size=8))
x, y = unzip(c1_cf_q1); add("q1", x, y, 3, rate=True)
x, y = unzip(c1_cf_inlet_line)
add("inlet", x, y, 3, rate=True, mode="lines", line=dict(color="#C00000", width=3.5))
x, y = unzip(c1_cf_ch1)
add("ch1", x, y, 3, rate=True, mode="lines+markers", line=dict(color="#8E3033", width=4),
    marker=dict(size=7, color="#8E3033"))
x, y = unzip(c1_cf_ch2)
add("ch2", x, y, 3, rate=True, mode="lines+markers", line=dict(color="#5E7F2C", width=4), marker=dict(size=7))
x, y = unzip(c1_cf_inlet_dots); add("inlet", x, y, 3, rate=True)

# Panel 4 : Core 2 preflush
add("ch2", c2_pre_t, c2_pre_ch, 4, marker=dict(size=7))
add("ch1", c2_pre_t, c2_pre_ch, 4, marker=dict(size=7, color="#D42A2A"))
add_inj(c2_pre_inj_t, c2_pre_inj, 4)

# Panel 5 : Core 2 gel placement
x, y = unzip(c2_gel_ch2_early); add("ch2", x + c2_band_t, y + c2_gel_ch2_band, 5, marker=dict(size=8))
x, y = unzip(c2_gel_ch1_early); add("ch1", x + c2_band_t, y + c2_gel_ch1_band, 5,
                                    marker=dict(size=8, color="#E02828"))
x, y = unzip(c2_gel_inlet); add("inlet", x, y, 5, marker=dict(size=7, line=dict(width=3.5, color="#B00000")))
add_inj(c2_gel_inj_t, c2_gel_inj, 5)
x, y = unzip(c2_gel_q2); add("q2", x, y, 5, rate=True, marker=dict(size=11, color="#E0852A"))
x, y = unzip(c2_gel_q1); add("q1", x, y, 5, rate=True, marker=dict(size=10, color="#3A5CB0", line=dict(width=1.6)))

# Panel 6 : Core 2 chase flood
add_inj(c2_cf_inj_t, c2_cf_inj, 6)
x, y = unzip(c2_cf_inlet); add("inlet", x, y, 6, rate=True, marker=dict(size=7, line=dict(width=3.5, color="#B00000")))
x, y = unzip(c2_cf_ch2); add("ch2", x, y, 6, rate=True, marker=dict(size=9))
x, y = unzip(c2_cf_ch1); add("ch1", x, y, 6, rate=True, marker=dict(size=8, color="#A84040"))
x, y = unzip(c2_cf_q1); add("q1", x, y, 6, rate=True, marker=dict(size=10, color="#3A5CB0", line=dict(width=1.6)))

# ---------------- TEXT ----------------
ann = []


def txt(s, x, y, size, color="black", bold=True, angle=0, xanchor="center"):
    ann.append(dict(text=("<b>%s</b>" % s) if bold else s, x=fx(x), y=fy(y), xref="paper", yref="paper",
                    xanchor=xanchor, yanchor="middle", showarrow=False, textangle=angle,
                    font=dict(family=FONT, size=size, color=color)))


GREY = "#808080"
PHASE = "#8C8C8C"
txt("Pressure [kPa]", 32, 262, 22, angle=-90)
txt("Pressure [kPa]", 27, 731, 26, angle=-90)
txt("Rate [ml/h]", 1171, 274, 22, angle=-90)
txt("Rate [ml/h]", 1192, 724, 23, angle=-90)
txt("Time [h]", 182, 471, 21)
txt("Time [h]", 526, 467, 21)
txt("Time [h]", 929, 467, 21)
txt("Time [h]", 193, 942, 24)
txt("Time [h]", 529, 953, 24)
txt("Time [h]", 945, 952, 24)
txt("Core 1", 13, 472, 41, color=GREY, xanchor="left")
txt("Core 2", 10, 937, 41, color=GREY, xanchor="left")
txt("PREFLUSH", 182, 510, 26, color=PHASE)
txt("GEL PLACEMENT", 522, 510, 26, color=PHASE)
txt("CHASE FLOOD", 955, 510, 26, color=PHASE)
txt("PREFLUSH", 192, 977, 26, color=PHASE)
txt("GEL PLACEMENT", 499, 978, 26, color=PHASE)
txt("CHASE FLOOD", 917, 977, 26, color=PHASE)

layout["annotations"] = ann
fig.update_layout(**layout)
fig.write_html("out.html")
